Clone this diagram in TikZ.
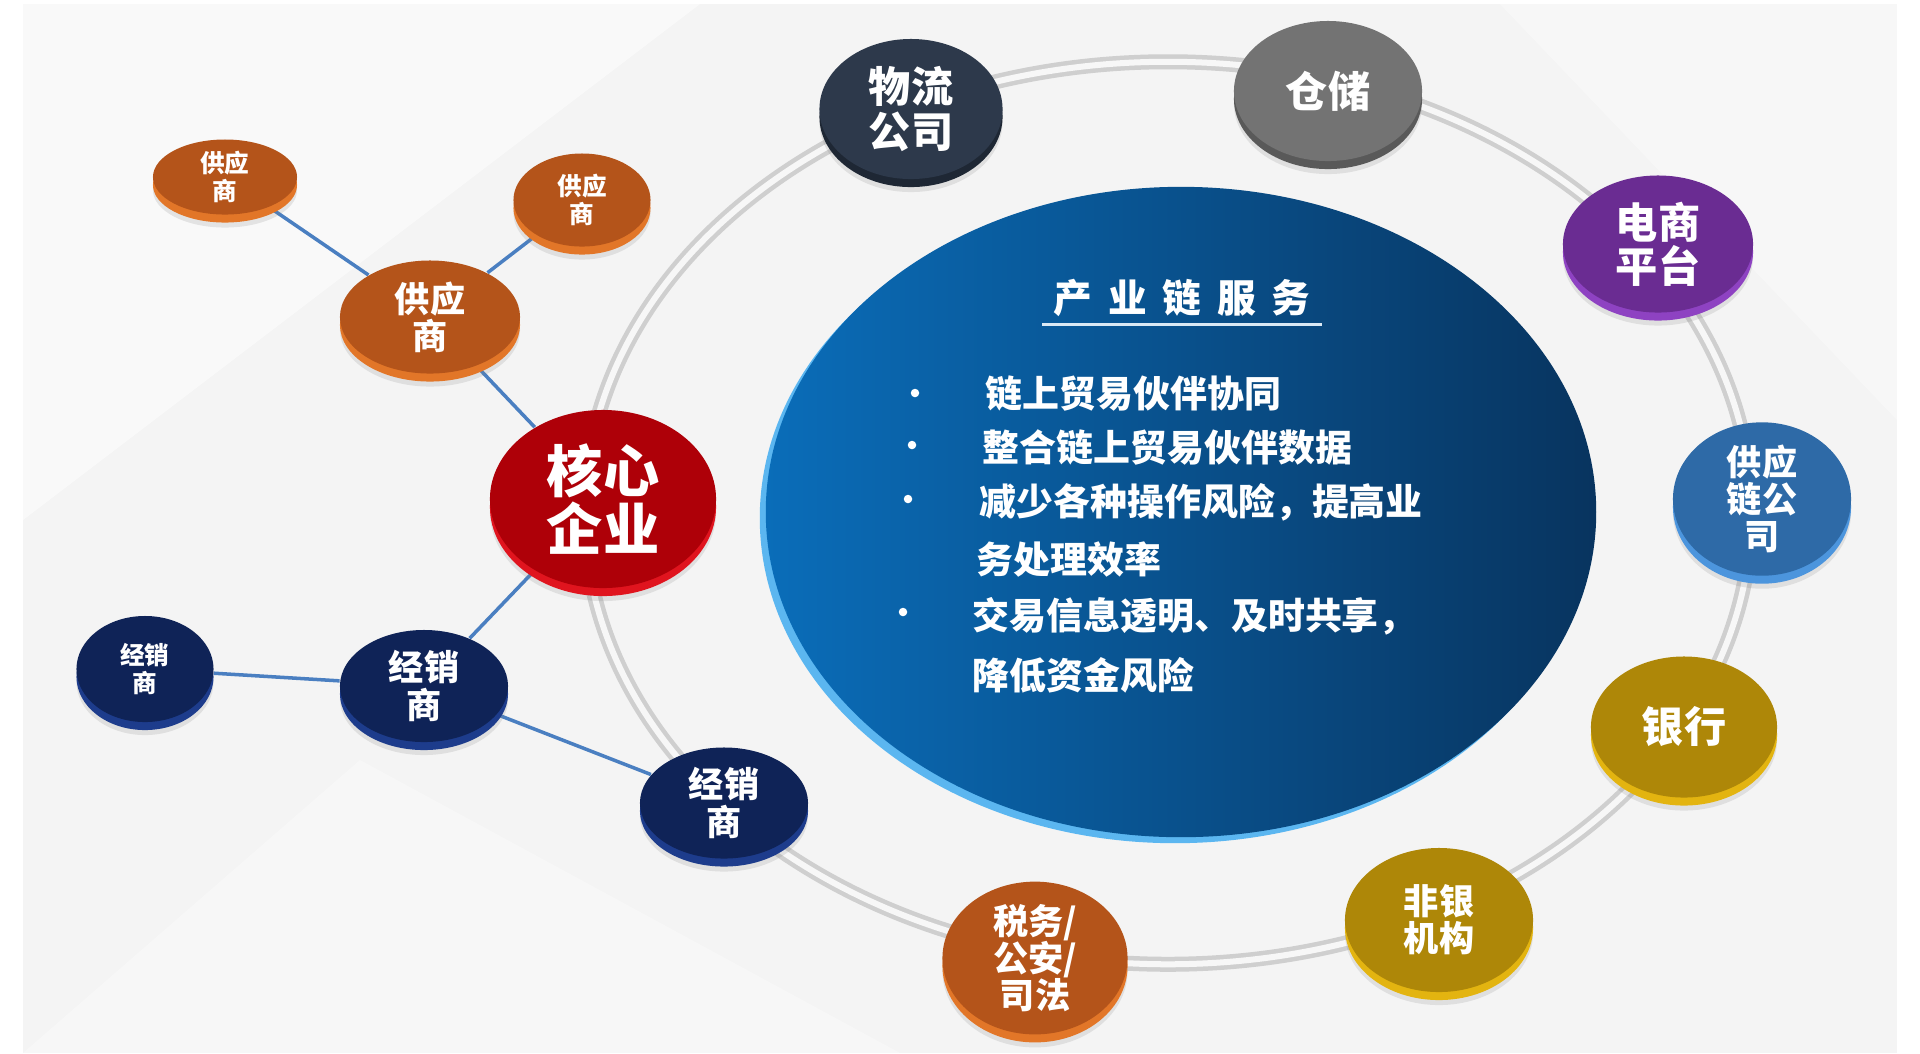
\documentclass[tikz,border=0pt]{standalone}
\usepackage{fontspec}
\newfontfamily\cjk{Noto Sans CJK SC}
\usetikzlibrary{shapes.geometric,shadows,backgrounds}

\definecolor{rust}{HTML}{B4541A}
\definecolor{rustrim}{HTML}{E27628}
\definecolor{navy}{HTML}{0F2357}
\definecolor{navyrim}{HTML}{1D3C8C}
\definecolor{crimson}{HTML}{AE0008}
\definecolor{crimsonrim}{HTML}{E0141E}
\definecolor{slate}{HTML}{2D394B}
\definecolor{slaterim}{HTML}{1E2734}
\definecolor{stone}{HTML}{737373}
\definecolor{stonerim}{HTML}{595959}
\definecolor{plum}{HTML}{6A2C92}
\definecolor{plumrim}{HTML}{8E42C2}
\definecolor{steel}{HTML}{2E6AA7}
\definecolor{steelrim}{HTML}{4C95DD}
\definecolor{ochre}{HTML}{AE8708}
\definecolor{ochrerim}{HTML}{E3B410}
\definecolor{seaL}{HTML}{0A6DB9}
\definecolor{seaM}{HTML}{0A5596}
\definecolor{seaD}{HTML}{08345F}
\definecolor{searim}{HTML}{5BB6F0}
\definecolor{linkblue}{HTML}{4A7FC1}

\tikzset{
  disc/.style n args={4}{ellipse, inner sep=0pt, minimum width=#1, minimum height=#2,
    drop shadow={shadow xshift=0pt, shadow yshift=-0.13cm, opacity=0.18},
    copy shadow={shadow xshift=0pt, shadow yshift=-0.08cm, fill=#4, draw=none},
    fill=#3, text=white, align=center},
  tiny/.style={font=\cjk\bfseries\fontsize{7}{7.8}\selectfont},
  mid/.style={font=\cjk\bfseries\fontsize{10}{10.6}\selectfont},
  big/.style={font=\cjk\bfseries\fontsize{12}{12.6}\selectfont},
  huge/.style={font=\cjk\bfseries\fontsize{16}{16.6}\selectfont},
  link/.style={linkblue, line width=1pt},
  point/.style={font=\cjk\bfseries\fontsize{10.5}{12}\selectfont, text=white, anchor=west, inner sep=0pt},
  bullet/.style={circle, fill=white, inner sep=0pt, minimum size=0.085cm},
}

\begin{document}
\begin{tikzpicture}[x=0.01cm, y=-0.01cm]
    \useasboundingbox (0,0) rectangle (1920,1053);

    % Service body: title and points
    \node[font=\cjk\bfseries\fontsize{11}{13}\selectfont, text=white, inner sep=0pt] (title) at (1182,298)
        {产\hspace{4.5pt}业\hspace{4.5pt}链\hspace{4.5pt}服\hspace{4.5pt}务};
    \draw[white!85!seaL, line width=0.7pt] ([xshift=-3pt,yshift=-2pt]title.south west) -- ([xshift=3pt,yshift=-2pt]title.south east);

    \node[bullet] (b1) at (915,393) {};
    \node[point] (p1) at (985,394) {链上贸易伙伴协同};
    \node[bullet] (b2) at (912,445) {};
    \node[point] (p2) at (982,447) {整合链上贸易伙伴数据};
    \node[bullet] (b3) at (908,499) {};
    \node[point] (p3) at (979,502) {减少各种操作风险，提高业};
    \node[point] (p3b) at (976,559) {务处理效率};
    \node[bullet] (b4) at (903,612) {};
    \node[point] (p4) at (972,616) {交易信息透明、及时共享，};
    \node[point] (p4b) at (972,675) {降低资金风险};

    % Partners on the ring
    \node[disc={1.83cm}{1.40cm}{slate}{slaterim}, big] (logistics) at (911,109) {物流\\公司};
    \node[disc={1.88cm}{1.40cm}{stone}{stonerim}, big] (storage) at (1328,91) {仓储};
    \node[disc={1.90cm}{1.37cm}{plum}{plumrim}, big] (ecom) at (1658,244) {电商\\平台};
    \node[disc={1.78cm}{1.38cm}{steel}{steelrim}, mid] (scm) at (1762,499) {供应\\链公\\司};
    \node[disc={1.86cm}{1.41cm}{ochre}{ochrerim}, big] (bank) at (1684,727) {银行};
    \node[disc={1.88cm}{1.44cm}{ochre}{ochrerim}, mid] (nonbank) at (1439,920) {非银\\机构};
    \node[disc={1.85cm}{1.39cm}{rust}{rustrim}, mid] (authority) at (1035,958) {税务/\\公安/\\司法};
    \node[disc={1.68cm}{1.11cm}{navy}{navyrim}, mid] (dealerR) at (724,803) {经销\\商};

    % Core enterprise with its suppliers and dealers
    \node[disc={2.26cm}{1.78cm}{crimson}{crimsonrim}, huge] (core) at (603,499) {核心\\企业};
    \node[disc={1.80cm}{1.13cm}{rust}{rustrim}, mid] (supM) at (430,317) {供应\\商};
    \node[disc={1.44cm}{0.75cm}{rust}{rustrim}, tiny] (supL) at (225,177) {供应\\商};
    \node[disc={1.37cm}{0.93cm}{rust}{rustrim}, tiny] (supR) at (582,200) {供应\\商};
    \node[disc={1.68cm}{1.12cm}{navy}{navyrim}, mid] (dealerM) at (424,686) {经销\\商};
    \node[disc={1.37cm}{1.06cm}{navy}{navyrim}, tiny] (dealerL) at (145,669) {经销\\商};

    \begin{scope}[on background layer]
        % Backdrop
        \fill[white] (0,0) rectangle (1920,1053);
        \fill[gray!9] (23,4) rectangle (1897,1053);
        \fill[white, opacity=0.5] (23,4) -- (700,4) -- (23,520) -- cycle;
        \fill[white, opacity=0.35] (1500,4) -- (1897,4) -- (1897,420) -- cycle;
        \fill[white, opacity=0.3] (23,1053) -- (900,1053) -- (360,760) -- cycle;

        % Ring
        \draw[gray!38, line width=0.15cm] (1168,513) ellipse [x radius=5.83cm, y radius=4.51cm];
        \draw[gray!6, line width=0.06cm] (1168,513) ellipse [x radius=5.83cm, y radius=4.51cm];

        % Service body
        \fill[searim] (1175,518) ellipse [x radius=4.15cm, y radius=3.25cm];
        \shade[left color=seaL, middle color=seaM, right color=seaD] (1181,512) ellipse [x radius=4.15cm, y radius=3.25cm];

        % Links
        \draw[link] (supL) -- (supM);
        \draw[link] (supR) -- (supM);
        \draw[link] (supM) -- (core);
        \draw[link] (core) -- (dealerM);
        \draw[link] (dealerL) -- (dealerM);
        \draw[link] (dealerM) -- (dealerR);
    \end{scope}
\end{tikzpicture}
\end{document}
